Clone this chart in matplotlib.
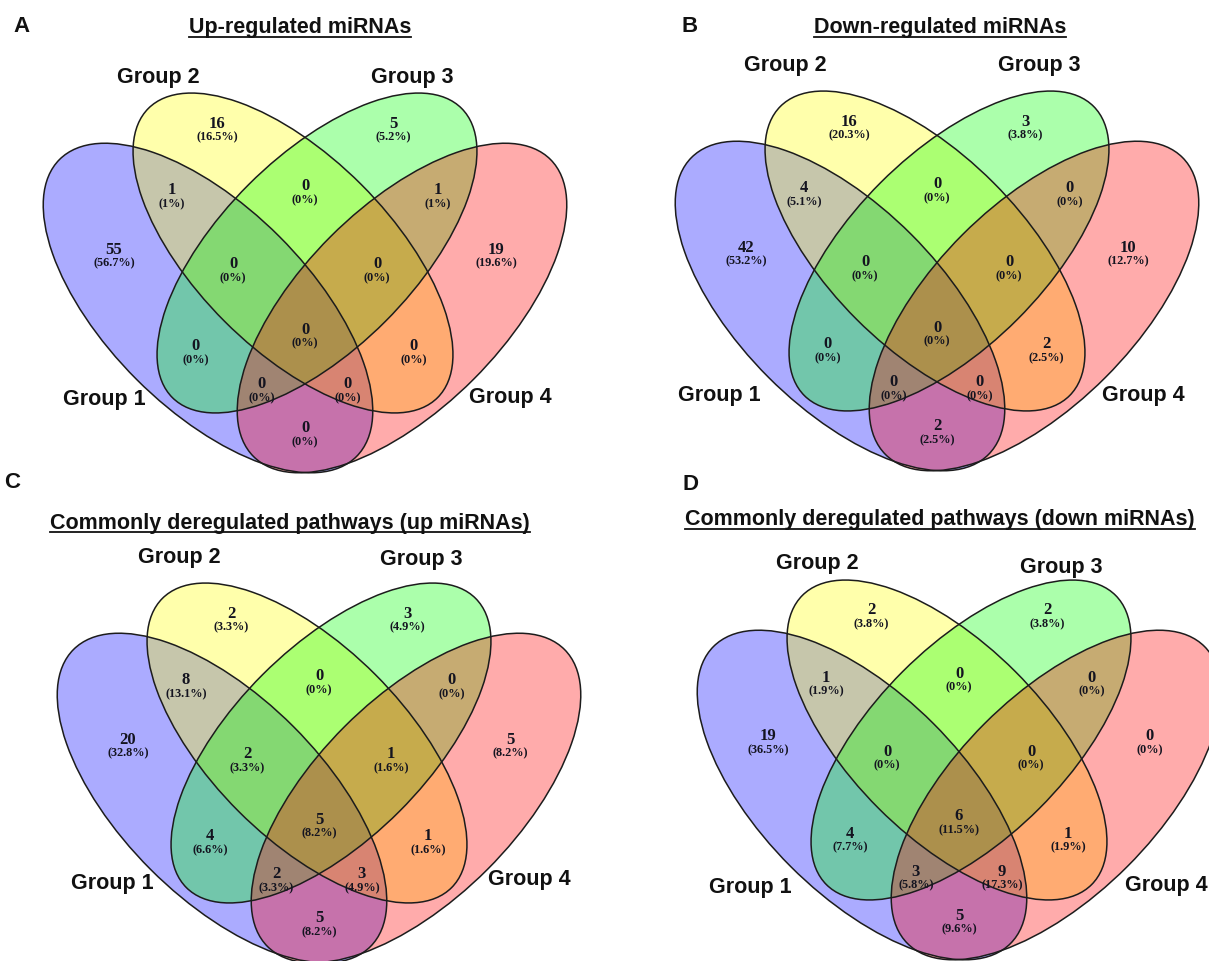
import matplotlib
matplotlib.use("Agg")
import matplotlib.pyplot as plt
from matplotlib.patches import Ellipse
from matplotlib.lines import Line2D

# ---------------- data ----------------
regions = ["1", "2", "3", "4", "12", "13", "14", "23", "24", "34",
           "123", "124", "134", "234", "1234"]

set_names = ["Group 1", "Group 2", "Group 3", "Group 4"]
set_colors = ["#0000FF", "#FFFF00", "#00FF00", "#FF0000"]

panel_letters = ["A", "B", "C", "D"]
panel_titles = ["Up-regulated miRNAs",
                "Down-regulated miRNAs",
                "Commonly deregulated pathways (up miRNAs)",
                "Commonly deregulated pathways (down miRNAs)"]

counts_A = [55, 16, 5, 19, 1, 0, 0, 0, 0, 1, 0, 0, 0, 0, 0]
pct_A = ["56.7%", "16.5%", "5.2%", "19.6%", "1%", "0%", "0%", "0%", "0%", "1%",
         "0%", "0%", "0%", "0%", "0%"]

counts_B = [42, 16, 3, 10, 4, 0, 2, 0, 2, 0, 0, 0, 0, 0, 0]
pct_B = ["53.2%", "20.3%", "3.8%", "12.7%", "5.1%", "0%", "2.5%", "0%", "2.5%", "0%",
         "0%", "0%", "0%", "0%", "0%"]

counts_C = [20, 2, 3, 5, 8, 4, 5, 0, 1, 0, 2, 3, 2, 1, 5]
pct_C = ["32.8%", "3.3%", "4.9%", "8.2%", "13.1%", "6.6%", "8.2%", "0%", "1.6%", "0%",
         "3.3%", "4.9%", "3.3%", "1.6%", "8.2%"]

counts_D = [19, 2, 2, 0, 1, 4, 5, 0, 1, 0, 0, 9, 3, 0, 6]
pct_D = ["36.5%", "3.8%", "3.8%", "0%", "1.9%", "7.7%", "9.6%", "0%", "1.9%", "0%",
         "0%", "17.3%", "5.8%", "0%", "11.5%"]

panel_counts = [counts_A, counts_B, counts_C, counts_D]
panel_pcts = [pct_A, pct_B, pct_C, pct_D]

# ---------------- layout (pixel units) ----------------
W, H = 1209, 961
fig = plt.figure(figsize=(W / 100, H / 100), dpi=100)
ax = fig.add_axes([0, 0, 1, 1])
ax.set_xlim(0, W)
ax.set_ylim(H, 0)
ax.set_aspect("equal")
ax.axis("off")

MX = 305  # mid line of panel A diagram
# (cx, cy, semi-major, semi-minor, angle)
ell_geom = [(MX - 97, 308, 210, 101, 45),
            (MX - 12, 253, 204.5, 96.7, 45),
            (MX + 12, 253, 204.5, 96.7, -45),
            (MX + 97, 308, 210, 101, -45)]
label_pos = {
    "1": (MX - 191, 256), "2": (MX - 88, 130), "3": (MX + 88, 130), "4": (MX + 191, 256),
    "12": (MX - 133, 197), "34": (MX + 133, 197), "23": (MX, 193),
    "123": (MX - 72, 271), "234": (MX + 72, 271),
    "13": (MX - 109, 353), "24": (MX + 109, 353), "1234": (MX, 336),
    "134": (MX - 43, 391), "124": (MX + 43, 391), "14": (MX, 435),
}

offsets = [(0, 0), (632, -2), (14, 490), (654, 487)]
group_label_pos = [
    [(104, 400), (158, 77), (412, 77), (510, 397)],
    [(719, 395), (785, 65), (1039, 65), (1143, 395)],
    [(112, 883), (179, 558), (421, 560), (529, 880)],
    [(750, 888), (817, 563), (1061, 567), (1166, 885)],
]
title_pos = [(300, 28), (940, 28), (290, 523), (940, 520)]
letter_pos = [(21, 27), (690, 27), (12, 482), (690, 485)]

SANS = "Liberation Sans"
SERIF = "Liberation Serif"

title_texts = []
for p in range(4):
    ox, oy = offsets[p]
    # fills
    for (cx, cy, ea, eb, ang), col in zip(ell_geom, set_colors):
        ax.add_patch(Ellipse((cx + ox, cy + oy), 2 * ea, 2 * eb, angle=ang,
                             facecolor=col, alpha=0.33, edgecolor="none", zorder=1))
    # outlines
    for (cx, cy, ea, eb, ang) in ell_geom:
        ax.add_patch(Ellipse((cx + ox, cy + oy), 2 * ea, 2 * eb, angle=ang,
                             facecolor="none", edgecolor="#1c1c1c", lw=1.1, zorder=2))
    # region labels
    for reg, n, pc in zip(regions, panel_counts[p], panel_pcts[p]):
        lx, ly = label_pos[reg]
        ax.text(lx + ox, ly + oy - 6.5, str(n), ha="center", va="center",
                fontsize=12, fontweight="bold", family=SERIF, color="#141420", zorder=3)
        ax.text(lx + ox, ly + oy + 7.5, "(" + pc + ")", ha="center", va="center",
                fontsize=8.8, fontweight="bold", family=SERIF, color="#141420", zorder=3)
    # group labels
    for name, (gx, gy) in zip(set_names, group_label_pos[p]):
        ax.text(gx, gy, name, ha="center", va="center", fontsize=15.5,
                fontweight="bold", family=SANS, color="#111111", zorder=3)
    # title & letter
    tx, ty = title_pos[p]
    t = ax.text(tx, ty, panel_titles[p], ha="center", va="center", fontsize=15.5,
                fontweight="bold", family=SANS, color="#111111", zorder=3)
    title_texts.append(t)
    lx, ly = letter_pos[p]
    ax.text(lx, ly, panel_letters[p], ha="center", va="center", fontsize=16,
            fontweight="bold", family=SANS, color="#111111", zorder=3)

# underline titles
fig.canvas.draw()
renderer = fig.canvas.get_renderer()
inv = ax.transData.inverted()
for t in title_texts:
    bb = t.get_window_extent(renderer)
    (x0, y0), (x1, y1) = inv.transform([(bb.x0, bb.y0), (bb.x1, bb.y1)])
    ax.add_line(Line2D([x0, x1], [y0 - 1, y0 - 1], color="#111111", lw=1.3, zorder=3))

fig.savefig("out.png", dpi=100, facecolor="white")
